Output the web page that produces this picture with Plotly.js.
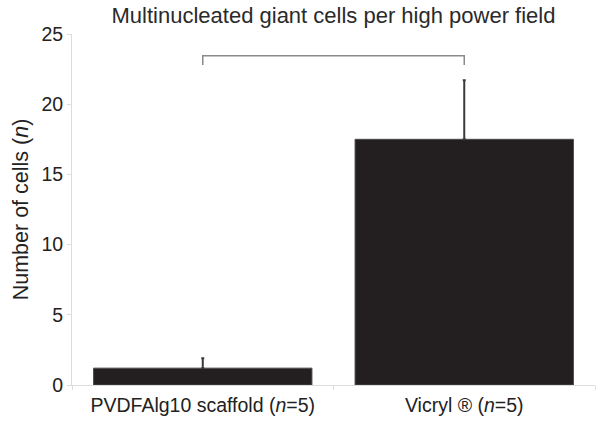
<!DOCTYPE html>
<html>
<head>
<meta charset="utf-8">
<script src="https://cdn.plot.ly/plotly-3.0.1.min.js"></script>
<style>html,body{margin:0;padding:0;background:#fff;}#chart{width:604px;height:425px;}</style>
</head>
<body>
<div id="chart"></div>
<script>
const categories = ["PVDFAlg10 scaffold (<i>n</i>=5)", "Vicryl ® (<i>n</i>=5)"];
const means = [1.2, 17.5];
const errorsUp = [0.7, 4.2];
const bracketY = [22.8, 23.45, 23.45, 22.8];
const bracketX = [categories[0], categories[0], categories[1], categories[1]];
const yTicks = [0, 5, 10, 15, 20, 25];

const font = "Liberation Sans, Arial, Helvetica, sans-serif";

const traces = [
  {
    type: "bar",
    x: categories,
    y: means,
    width: 0.835,
    marker: {color: "#231f20", line: {color: "#4a4a4a", width: 1}},
    error_y: {type: "data", array: errorsUp, arrayminus: [0, 0], symmetric: false, color: "#3a3a3a", thickness: 2, width: 1.5},
    hoverinfo: "none"
  },
  {
    type: "scatter",
    mode: "lines",
    x: bracketX,
    y: bracketY,
    line: {color: "#8a8a8a", width: 1.5},
    hoverinfo: "none"
  }
];

const layout = {
  width: 604,
  height: 425,
  margin: {l: 72, r: 9, t: 34, b: 40},
  paper_bgcolor: "#fff",
  plot_bgcolor: "#fff",
  showlegend: false,
  font: {family: font, color: "#222"},
  title: {text: "Multinucleated giant cells per high power field", font: {family: font, size: 22, color: "#2a2a2a"}, x: 0.5, xref: "paper", y: 0.965, yanchor: "middle"},
  xaxis: {
    type: "category",
    showline: true, linecolor: "#dcdcdc", linewidth: 1,
    ticks: "outside", tickson: "boundaries", ticklen: 4, tickcolor: "#dcdcdc",
    ticklabelstandoff: 3,
    tickfont: {family: font, size: 19.5, color: "#222"},
    showgrid: false, zeroline: false,
    range: [-0.5, 1.5]
  },
  yaxis: {
    range: [0, 25],
    tickvals: yTicks,
    showline: true, linecolor: "#dcdcdc", linewidth: 1,
    ticks: "outside", ticklen: 4, tickcolor: "#dcdcdc",
    tickfont: {family: font, size: 19.5, color: "#222"},
    showgrid: false, zeroline: false,
    title: {text: "Number of cells (<i>n</i>)", font: {family: font, size: 21.5, color: "#222"}, standoff: 6}
  }
};

Plotly.newPlot("chart", traces, layout, {displayModeBar: false, staticPlot: true});
</script>
</body>
</html>
